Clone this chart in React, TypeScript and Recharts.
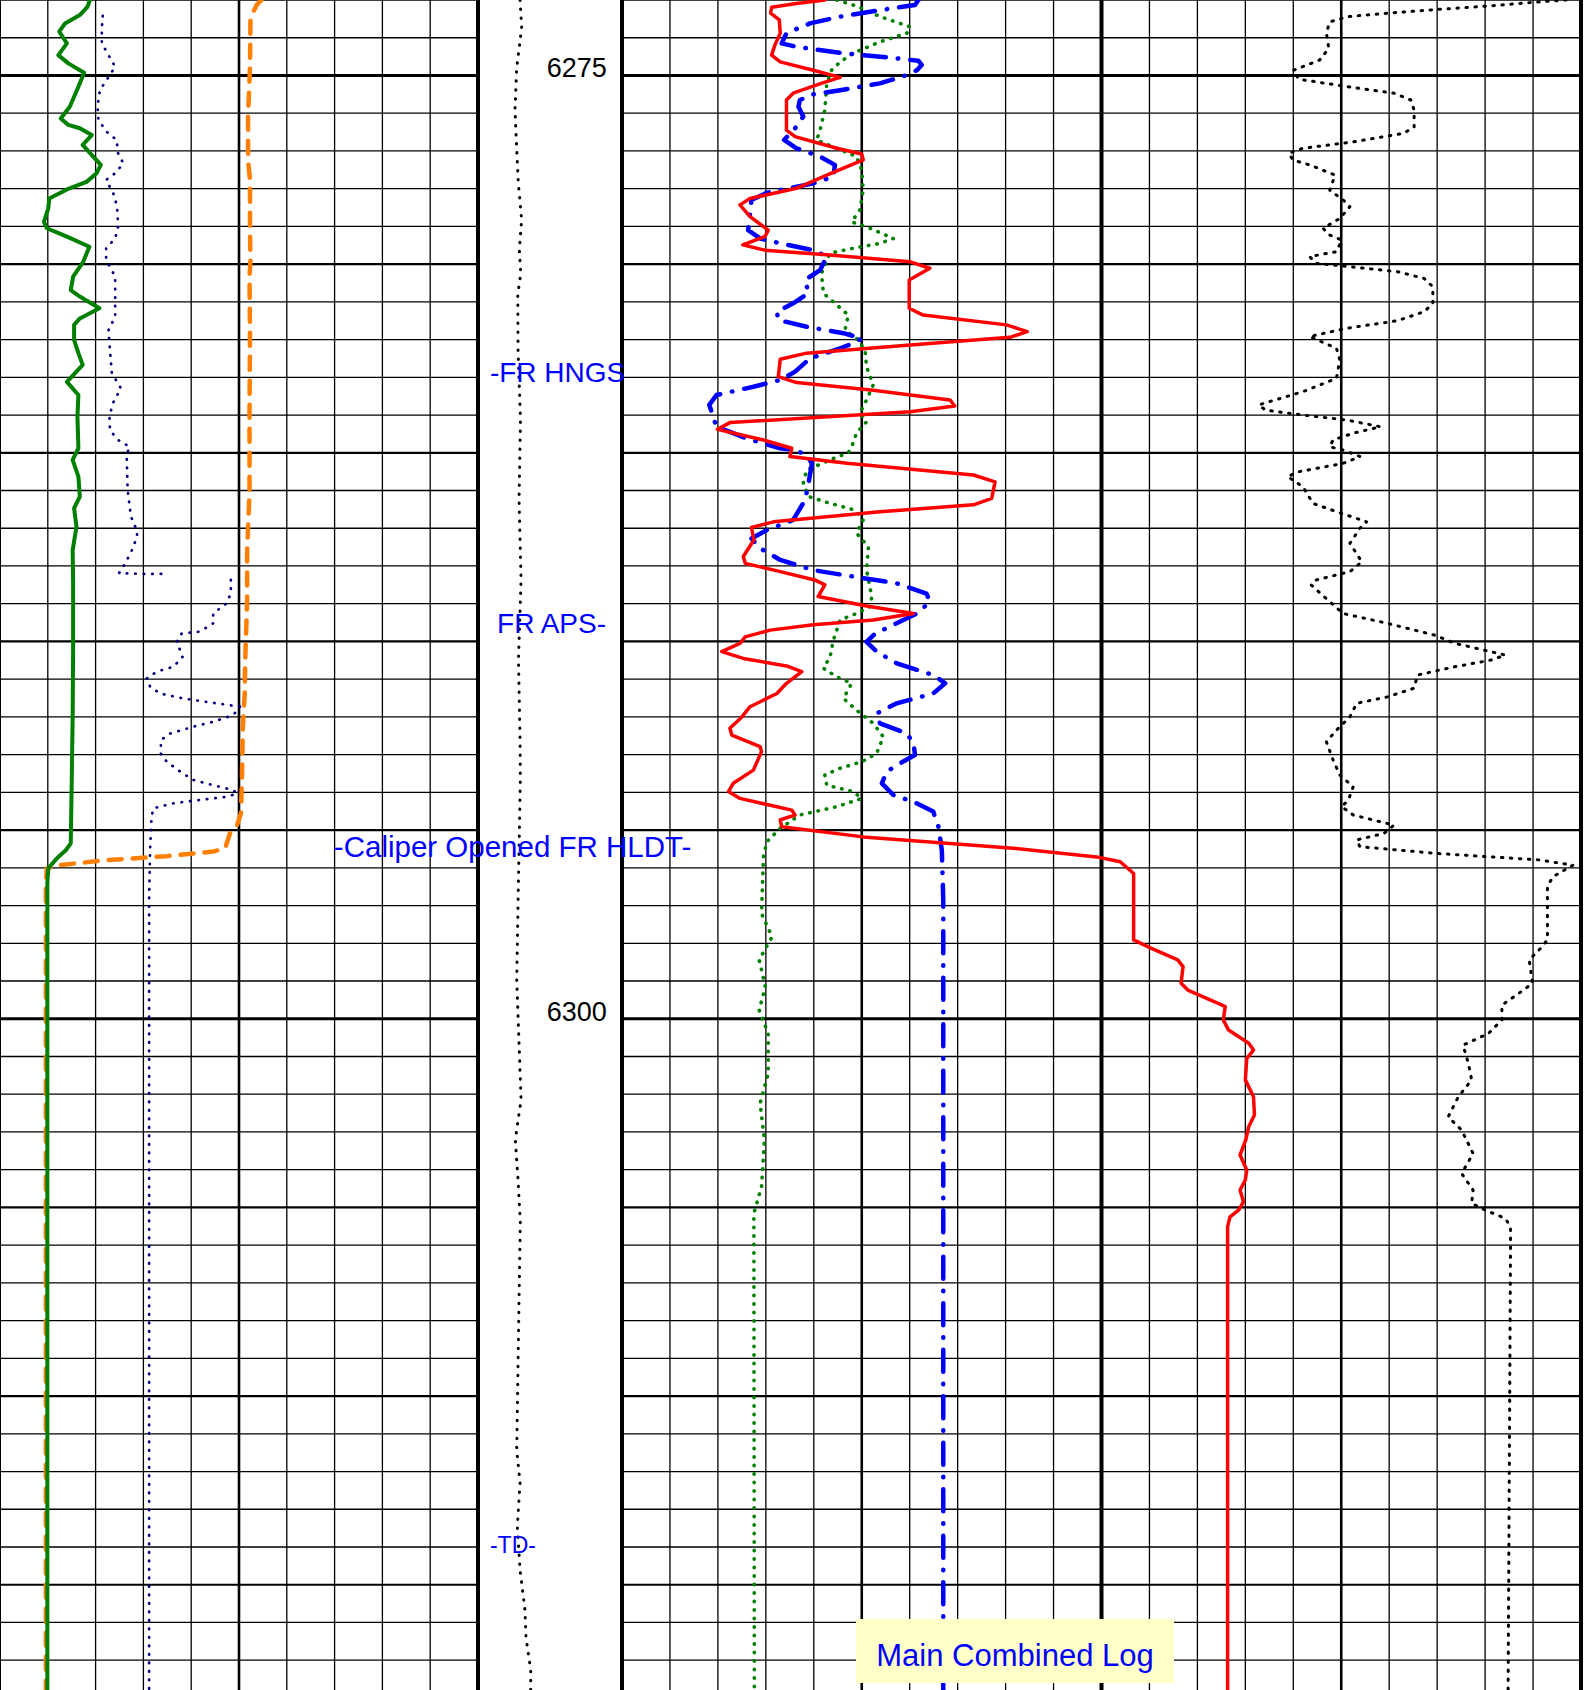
import { ComposedChart, Line, XAxis, YAxis, ReferenceLine, ReferenceDot } from "recharts";

const CHART_H = 1690;
const DEPTH_TOP = 6273;
const DEPTH_BOTTOM = 6317.79;
const FONT = '"Liberation Sans", Arial, Helvetica, sans-serif';

// one grid line per foot
const depthGrid = Array.from({ length: 45 }, (_, i) => DEPTH_TOP + i);
const depthLabels = [6275, 6300];

const markerDepths = [6282.86, 6289.51, 6295.42, 6313.95];
const markerTexts = ["-FR HNGS", "FR APS-", "-Caliper Opened FR HLDT-", "-TD-"];

// track 1 (0-10 divisions)
const gammaRay: [number, number][] = [
  [6273.0, 1.88], [6273.18, 1.83], [6273.4, 1.67], [6273.62, 1.36], [6273.84, 1.24], [6274.15, 1.4],
  [6274.46, 1.22], [6274.68, 1.43], [6274.93, 1.76], [6275.3, 1.64], [6275.83, 1.46], [6276.14, 1.27],
  [6276.31, 1.43], [6276.4, 1.67], [6276.58, 1.92], [6276.84, 1.73], [6277.15, 1.95], [6277.37, 2.11],
  [6277.59, 2.02], [6277.82, 1.81], [6278.02, 1.4], [6278.26, 1.03], [6278.52, 1.01], [6278.88, 0.92],
  [6279.05, 0.98], [6279.27, 1.4], [6279.54, 1.87], [6279.94, 1.74], [6280.33, 1.53], [6280.69, 1.48],
  [6280.86, 1.67], [6281.17, 2.08], [6281.44, 1.67], [6281.61, 1.55], [6282.01, 1.55], [6282.36, 1.64],
  [6282.67, 1.73], [6283.12, 1.4], [6283.47, 1.64], [6284.04, 1.62], [6284.88, 1.64], [6285.19, 1.52],
  [6285.63, 1.64], [6286.16, 1.67], [6286.47, 1.55], [6286.96, 1.6], [6287.58, 1.52], [6288.46, 1.53],
  [6290.23, 1.53], [6292.0, 1.52], [6293.76, 1.5], [6295.35, 1.48], [6295.53, 1.38], [6295.75, 1.19],
  [6296.01, 1.01], [6296.41, 0.99], [6317.79, 0.99],
];

const navyUpper: [number, number][] = [
  [6273.42, 2.15], [6273.75, 2.13], [6274.15, 2.13], [6274.77, 2.41], [6275.12, 2.23], [6275.39, 2.09],
  [6275.83, 2.04], [6276.18, 2.06], [6276.49, 2.23], [6276.71, 2.44], [6277.06, 2.47], [6277.33, 2.58],
  [6277.59, 2.41], [6277.77, 2.22], [6278.12, 2.37], [6278.48, 2.45], [6279.01, 2.47], [6279.32, 2.41],
  [6279.58, 2.22], [6279.89, 2.22], [6280.33, 2.41], [6280.95, 2.41], [6281.39, 2.41], [6281.75, 2.27],
  [6282.28, 2.3], [6282.89, 2.34], [6283.29, 2.53], [6283.69, 2.36], [6284.04, 2.29], [6284.4, 2.3],
  [6284.66, 2.47], [6284.84, 2.71], [6285.06, 2.65], [6285.99, 2.67], [6286.69, 2.74], [6287.05, 2.86],
  [6287.22, 2.87], [6287.58, 2.76], [6287.93, 2.62], [6288.19, 2.49], [6288.21, 2.93], [6288.21, 3.49],
];

const navyLower: [number, number][] = [
  [6288.37, 4.83], [6288.72, 4.83], [6288.99, 4.74], [6289.26, 4.46], [6289.52, 4.46], [6289.74, 4.18],
  [6289.79, 3.8], [6290.01, 3.7], [6290.41, 3.82], [6290.67, 3.63], [6290.8, 3.28], [6290.98, 3.07],
  [6291.2, 3.14], [6291.38, 3.35], [6291.51, 3.83], [6291.64, 4.53], [6291.73, 5.02], [6291.95, 4.88],
  [6292.13, 4.46], [6292.26, 4.04], [6292.44, 3.56], [6292.61, 3.37], [6292.97, 3.36], [6293.19, 3.49],
  [6293.45, 3.77], [6293.67, 4.04], [6293.81, 4.46], [6293.94, 4.88], [6294.03, 4.96], [6294.12, 4.74],
  [6294.2, 4.18], [6294.29, 3.63], [6294.42, 3.21], [6294.65, 3.17], [6295.53, 3.14], [6296.77, 3.12],
  [6317.79, 3.12],
];

const caliper: [number, number][] = [
  [6273.0, 5.47], [6273.13, 5.37], [6273.31, 5.3], [6273.53, 5.24], [6274.77, 5.23], [6276.09, 5.19],
  [6277.24, 5.19], [6277.77, 5.23], [6279.18, 5.23], [6279.89, 5.24], [6280.33, 5.22], [6281.83, 5.23],
  [6284.04, 5.22], [6286.07, 5.22], [6287.58, 5.17], [6288.9, 5.17], [6290.49, 5.13], [6291.38, 5.12],
  [6292.26, 5.08], [6293.76, 5.06], [6294.56, 5.04], [6294.87, 4.96], [6295.09, 4.81], [6295.48, 4.71],
  [6295.57, 4.46], [6295.69, 3.49], [6295.81, 2.09], [6295.93, 1.26], [6296.01, 0.98], [6296.41, 0.96],
  [6317.79, 0.96],
];

// depth track (0-10)
const tension: [number, number][] = [
  [6273.0, 2.92], [6273.72, 3.03], [6274.25, 2.87], [6274.78, 2.69], [6275.92, 2.57], [6276.98, 2.69],
  [6277.85, 2.8], [6278.83, 3.03], [6279.63, 2.87], [6280.24, 2.97], [6280.82, 2.76], [6282.28, 2.78],
  [6284.13, 2.95], [6286.25, 2.85], [6288.37, 2.99], [6290.49, 2.81], [6292.61, 2.92], [6293.67, 2.94],
  [6296.32, 2.81], [6298.97, 2.69], [6302.15, 2.99], [6303.21, 2.59], [6304.27, 2.78], [6305.41, 2.94],
  [6307.46, 2.85], [6311.43, 2.69], [6312.31, 2.92], [6313.47, 2.73], [6314.61, 2.92], [6315.67, 3.26],
  [6316.39, 3.33], [6317.26, 3.66], [6317.79, 3.66],
];

// tracks 2 + 3 (0-20 divisions)
const density: [number, number][] = [
  [6273.0, 4.48], [6273.16, 4.89], [6273.44, 5.38], [6273.71, 6.01], [6273.88, 5.94], [6274.11, 5.38],
  [6274.41, 4.82], [6274.64, 4.55], [6274.86, 4.37], [6275.21, 4.27], [6275.92, 4.23], [6276.45, 4.13],
  [6276.71, 4.06], [6276.93, 4.48], [6277.15, 4.89], [6277.51, 5.0], [6278.04, 5.03], [6278.57, 4.96],
  [6278.88, 4.79], [6279.05, 5.17], [6279.32, 5.66], [6279.45, 5.38], [6279.58, 4.82], [6279.71, 4.34],
  [6280.24, 4.16], [6280.77, 4.2], [6281.08, 4.48], [6281.35, 4.72], [6281.75, 4.65], [6281.97, 4.89],
  [6282.28, 5.07], [6282.72, 5.1], [6283.2, 5.24], [6283.6, 5.1], [6283.95, 4.96], [6284.18, 5.1],
  [6284.48, 4.89], [6284.84, 4.79], [6285.0, 4.72], [6285.15, 4.41], [6285.46, 3.85], [6285.81, 3.78],
  [6286.16, 3.89], [6286.34, 4.34], [6286.52, 4.86], [6286.78, 5.03], [6287.13, 4.89], [6287.49, 5.14],
  [6288.11, 5.1], [6288.82, 5.21], [6289.08, 5.17], [6289.26, 4.89], [6289.43, 4.55], [6289.96, 4.41],
  [6290.41, 4.34], [6290.71, 4.2], [6290.94, 4.48], [6291.11, 4.79], [6291.51, 4.62], [6291.82, 4.89],
  [6292.17, 5.24], [6292.53, 5.45], [6292.97, 5.31], [6293.19, 5.0], [6293.36, 4.55], [6293.54, 4.23],
  [6293.81, 4.27], [6293.98, 4.82], [6294.16, 5.0], [6294.38, 4.48], [6294.6, 3.71], [6294.95, 3.3],
  [6295.31, 3.02], [6295.71, 2.95], [6296.44, 2.93], [6297.21, 2.91], [6297.83, 3.13], [6298.44, 2.86],
  [6299.15, 2.99], [6299.77, 2.86], [6300.39, 3.05], [6301.45, 3.05], [6302.24, 2.88], [6303.21, 2.97],
  [6304.45, 2.91], [6305.16, 2.75], [6317.79, 2.76],
];

const neutron: [number, number][] = [
  [6273.0, 6.18], [6273.13, 6.11], [6273.27, 5.38], [6273.44, 4.55], [6273.62, 3.92], [6273.88, 3.43],
  [6274.15, 3.33], [6274.24, 3.64], [6274.4, 4.55], [6274.52, 5.52], [6274.61, 6.18], [6274.72, 6.25],
  [6274.86, 6.15], [6274.99, 5.94], [6275.21, 5.38], [6275.39, 4.55], [6275.5, 3.99], [6275.65, 3.71],
  [6275.83, 3.68], [6276.09, 3.78], [6276.4, 3.61], [6276.71, 3.38], [6276.93, 3.64], [6277.15, 4.13],
  [6277.37, 4.44], [6277.68, 4.41], [6277.86, 3.99], [6278.11, 3.02], [6278.3, 2.7], [6278.57, 2.68],
  [6279.1, 2.63], [6279.32, 2.88], [6279.45, 3.3], [6279.63, 3.99], [6279.8, 4.27], [6280.16, 4.13],
  [6280.42, 3.82], [6280.77, 3.89], [6281.04, 3.57], [6281.26, 3.23], [6281.48, 3.26], [6281.66, 3.85],
  [6281.83, 4.62], [6281.97, 5.0], [6282.1, 4.82], [6282.23, 4.55], [6282.5, 3.92], [6282.85, 3.61],
  [6283.07, 3.3], [6283.25, 2.74], [6283.47, 1.97], [6283.73, 1.82], [6284.31, 1.97], [6284.62, 2.6],
  [6284.88, 3.3], [6284.93, 3.61], [6285.06, 3.85], [6285.28, 3.96], [6285.81, 3.89], [6286.25, 3.82],
  [6286.78, 3.57], [6287.05, 3.02], [6287.27, 2.7], [6287.53, 2.88], [6287.84, 3.3], [6288.11, 3.99],
  [6288.28, 4.82], [6288.46, 5.73], [6288.73, 6.35], [6288.95, 6.42], [6289.26, 6.15], [6289.56, 5.66],
  [6289.79, 5.28], [6290.01, 5.1], [6290.27, 5.31], [6290.58, 5.73], [6290.89, 6.49], [6291.11, 6.74],
  [6291.38, 6.49], [6291.64, 5.73], [6291.91, 5.31], [6292.17, 5.38], [6292.44, 5.94], [6292.7, 6.08],
  [6293.01, 6.11], [6293.23, 5.8], [6293.45, 5.52], [6293.76, 5.42], [6294.07, 5.66], [6294.25, 6.08],
  [6294.51, 6.49], [6294.91, 6.6], [6295.53, 6.67], [6296.85, 6.7], [6317.79, 6.7],
];

const sonic: [number, number][] = [
  [6273.0, 4.23], [6273.09, 3.64], [6273.19, 3.12], [6273.35, 3.1], [6273.53, 3.28], [6273.88, 3.3],
  [6274.19, 3.19], [6274.46, 3.12], [6274.64, 3.3], [6274.86, 3.99], [6275.05, 4.55], [6275.19, 4.2],
  [6275.47, 3.57], [6275.65, 3.43], [6276.45, 3.43], [6276.62, 3.61], [6276.93, 4.48], [6277.08, 5.0],
  [6277.24, 5.03], [6277.64, 4.27], [6277.99, 3.64], [6278.26, 2.67], [6278.43, 2.46], [6278.74, 2.67],
  [6279.1, 3.05], [6279.27, 2.98], [6279.49, 2.52], [6279.63, 2.98], [6279.76, 4.34], [6279.94, 6.01],
  [6280.11, 6.42], [6280.42, 5.99], [6281.17, 5.99], [6281.35, 6.28], [6281.61, 8.02], [6281.79, 8.45],
  [6281.94, 8.09], [6282.14, 6.08], [6282.36, 3.85], [6282.52, 3.3], [6282.98, 3.26], [6283.14, 3.64],
  [6283.34, 5.24], [6283.6, 6.84], [6283.76, 6.94], [6283.91, 6.01], [6284.2, 2.25], [6284.38, 1.99],
  [6284.66, 2.95], [6284.88, 3.54], [6285.1, 3.5], [6285.28, 4.69], [6285.59, 7.33], [6285.77, 7.78],
  [6286.21, 7.71], [6286.38, 7.33], [6286.56, 5.38], [6286.83, 3.16], [6286.98, 2.7], [6287.31, 2.75],
  [6287.75, 2.53], [6287.93, 2.57], [6288.15, 3.3], [6288.37, 4.02], [6288.5, 4.23], [6288.81, 4.09],
  [6289.06, 5.1], [6289.26, 6.08], [6289.43, 5.24], [6289.56, 3.99], [6289.7, 3.09], [6289.88, 2.57],
  [6290.05, 2.46], [6290.27, 2.08], [6290.45, 2.53], [6290.65, 3.43], [6290.8, 3.75], [6291.11, 3.43],
  [6291.38, 3.23], [6291.73, 2.67], [6292.0, 2.5], [6292.3, 2.25], [6292.48, 2.29], [6292.79, 2.88],
  [6292.92, 2.91], [6293.41, 2.74], [6293.76, 2.32], [6293.98, 2.22], [6294.16, 2.46], [6294.47, 3.54],
  [6294.6, 3.61], [6294.73, 3.3], [6294.91, 3.33], [6295.18, 5.03], [6295.48, 8.16], [6295.71, 9.9],
  [6295.84, 10.39], [6296.15, 10.67], [6297.91, 10.67], [6298.13, 11.03], [6298.44, 11.59], [6298.62, 11.7],
  [6299.06, 11.66], [6299.24, 11.8], [6299.55, 12.36], [6299.68, 12.58], [6300.03, 12.54], [6300.3, 12.65],
  [6300.65, 13.07], [6300.83, 13.17], [6301.05, 13.03], [6301.62, 13.0], [6302.07, 13.17], [6302.55, 13.19],
  [6302.86, 13.07], [6303.21, 13.01], [6303.61, 12.89], [6304.01, 13.03], [6304.27, 13.0], [6304.54, 12.89],
  [6304.85, 12.96], [6305.07, 12.86], [6305.25, 12.68], [6305.51, 12.63], [6317.79, 12.63],
];

const resistivity: [number, number][] = [
  [6273.0, 19.69], [6273.05, 19.13], [6273.16, 18.07], [6273.25, 17.01], [6273.35, 15.96], [6273.44, 15.15],
  [6273.58, 14.76], [6273.88, 14.69], [6274.28, 14.74], [6274.59, 14.55], [6274.87, 13.99], [6275.1, 14.12],
  [6275.28, 15.04], [6275.47, 16.1], [6275.65, 16.45], [6275.92, 16.52], [6276.36, 16.52], [6276.53, 16.31],
  [6276.76, 15.25], [6276.93, 14.2], [6277.06, 13.91], [6277.24, 13.99], [6277.37, 14.34], [6277.64, 14.87],
  [6278.04, 14.76], [6278.3, 15.04], [6278.48, 15.18], [6278.79, 14.97], [6279.05, 14.62], [6279.23, 14.76],
  [6279.36, 15.01], [6279.67, 14.9], [6279.8, 14.34], [6279.98, 14.48], [6280.05, 15.04], [6280.2, 16.17],
  [6280.38, 16.73], [6280.6, 16.91], [6281.04, 16.91], [6281.26, 16.73], [6281.5, 16.17], [6281.7, 15.11],
  [6281.92, 14.34], [6282.23, 14.9], [6282.54, 14.97], [6283.03, 14.9], [6283.38, 14.2], [6283.73, 13.28],
  [6283.87, 13.42], [6284.0, 14.2], [6284.13, 15.11], [6284.31, 15.82], [6284.48, 15.25], [6284.66, 14.83],
  [6284.84, 14.76], [6284.93, 15.04], [6285.1, 15.39], [6285.28, 15.04], [6285.5, 14.12], [6285.63, 13.88],
  [6285.9, 14.2], [6286.34, 14.41], [6286.56, 14.9], [6286.83, 15.53], [6287.0, 15.39], [6287.4, 15.18],
  [6287.89, 15.43], [6288.15, 15.18], [6288.37, 14.48], [6288.5, 14.37], [6288.95, 14.76], [6289.26, 15.04],
  [6289.52, 15.96], [6289.83, 16.94], [6290.05, 17.37], [6290.36, 18.42], [6290.49, 18.14], [6290.67, 17.37],
  [6290.89, 16.59], [6291.24, 16.52], [6291.47, 15.96], [6291.64, 15.32], [6292.0, 15.18], [6292.35, 14.9],
  [6292.66, 14.69], [6293.14, 14.83], [6293.54, 14.97], [6293.85, 15.25], [6294.2, 15.15], [6294.38, 15.01],
  [6294.6, 15.25], [6294.87, 16.1], [6295.09, 15.89], [6295.26, 15.32], [6295.44, 15.39], [6295.62, 17.01],
  [6295.79, 19.13], [6295.93, 19.83], [6296.24, 19.41], [6296.5, 19.3], [6297.91, 19.3], [6298.13, 19.16],
  [6298.44, 18.92], [6299.06, 18.99], [6299.33, 18.7], [6299.64, 18.35], [6300.03, 18.35], [6300.39, 18.07],
  [6300.7, 17.54], [6301.18, 17.65], [6301.62, 17.72], [6302.07, 17.44], [6302.6, 17.23], [6302.95, 17.51],
  [6303.57, 17.75], [6304.1, 17.51], [6304.54, 17.75], [6304.89, 17.72], [6305.07, 18.0], [6305.29, 18.42],
  [6305.51, 18.53], [6306.13, 18.53], [6317.79, 18.48],
];

type Curve = { data: [number, number][]; stroke: string; width: number; dash?: string };

const track1Curves: Curve[] = [
  { data: navyUpper, stroke: "#000080", width: 2.7, dash: "0.5 8" },
  { data: navyLower, stroke: "#000080", width: 2.7, dash: "0.5 8" },
  { data: caliper, stroke: "#FF8000", width: 4.5, dash: "13 11" },
  { data: gammaRay, stroke: "#008000", width: 4 },
];

const depthCurves: Curve[] = [{ data: tension, stroke: "#000", width: 3, dash: "0.5 8.5" }];

const track23Curves: Curve[] = [
  { data: resistivity, stroke: "#000", width: 3, dash: "1.5 7.5" },
  { data: density, stroke: "#008000", width: 3.6, dash: "0.5 8" },
  { data: neutron, stroke: "#0000FF", width: 4.5, dash: "22 12 0.5 12" },
  { data: sonic, stroke: "#FF0000", width: 3.5 },
];

const noMargin = { top: 0, right: 0, bottom: 0, left: 0 };

function hWeight(d: number) {
  if (d % 25 === 0) return 3;
  if (d % 5 === 0) return 2.2;
  return 1.3;
}

function GridLayer({ left, width, units, weight }: { left: number; width: number; units: number; weight: (c: number) => number }) {
  const cols = Array.from({ length: units + 1 }, (_, i) => i);
  return (
    <div style={{ position: "absolute", left, top: 0 }}>
      <ComposedChart layout="vertical" width={width} height={CHART_H} margin={noMargin}>
        <XAxis type="number" domain={[0, units]} hide allowDataOverflow />
        <YAxis type="number" dataKey="d" domain={[DEPTH_TOP, DEPTH_BOTTOM]} hide allowDataOverflow />
        {depthGrid.map((d) => (
          <ReferenceLine key={`h${d}`} y={d} stroke="#000" strokeWidth={hWeight(d)} />
        ))}
        {cols.map((c) => (
          <ReferenceLine key={`v${c}`} x={c} stroke="#000" strokeWidth={weight(c)} />
        ))}
      </ComposedChart>
    </div>
  );
}

function CurveLayer({ left, width, units, curves, children }: { left: number; width: number; units: number; curves: Curve[]; children?: any }) {
  return (
    <div style={{ position: "absolute", left, top: 0 }}>
      <ComposedChart layout="vertical" width={width} height={CHART_H} margin={noMargin}>
        <XAxis type="number" domain={[0, units]} hide allowDataOverflow />
        <YAxis type="number" dataKey="d" domain={[DEPTH_TOP, DEPTH_BOTTOM]} hide allowDataOverflow />
        {curves.map((c, i) => (
          <Line
            key={i}
            data={c.data.map(([d, v]) => ({ d, v }))}
            dataKey="v"
            type="linear"
            stroke={c.stroke}
            strokeWidth={c.width}
            strokeDasharray={c.dash}
            strokeLinecap="round"
            strokeLinejoin="round"
            dot={false}
            activeDot={false}
            isAnimationActive={false}
          />
        ))}
        {children}
      </ComposedChart>
    </div>
  );
}

const markerStyle = [
  { x: 0.83, anchor: "start", size: 28 },
  { x: 8.89, anchor: "end", size: 28 },
  { x: 2.4, anchor: "middle", size: 29.5 },
  { x: 0.83, anchor: "start", size: 23 },
];

export default function App() {
  return (
    <div style={{ position: "relative", width: 1593, height: CHART_H, background: "#fff", overflow: "hidden", fontFamily: FONT }}>
      <style>{"body{margin:0}.recharts-surface{overflow:visible}"}</style>
      <GridLayer left={0} width={478} units={10} weight={(c) => (c === 10 ? 4 : c === 5 ? 2.6 : c === 0 ? 2 : 1.3)} />
      <GridLayer left={622} width={959} units={20} weight={(c) => (c % 10 === 0 ? 4 : c % 5 === 0 ? 2.6 : 1.3)} />
      <CurveLayer left={0} width={478} units={10} curves={track1Curves} />
      <CurveLayer left={478} width={144} units={10} curves={depthCurves}>
        {depthLabels.map((d) => (
          <ReferenceDot
            key={`dl${d}`}
            x={8.94}
            y={d}
            r={1}
            shape={(p: any) => (
              <text x={p.cx} y={p.cy} dy={2} textAnchor="end" fontSize={27} fontFamily={FONT} fill="#000">
                {d}
              </text>
            )}
          />
        ))}
        {markerTexts.map((t, i) => (
          <ReferenceDot
            key={`mk${i}`}
            x={markerStyle[i].x}
            y={markerDepths[i]}
            r={1}
            shape={(p: any) => (
              <text
                x={p.cx}
                y={p.cy}
                dy="0.36em"
                textAnchor={markerStyle[i].anchor as any}
                fontSize={markerStyle[i].size}
                fontFamily={FONT}
                fill="#0000FF"
              >
                {t}
              </text>
            )}
          />
        ))}
      </CurveLayer>
      <CurveLayer left={622} width={959} units={20} curves={track23Curves} />
      <div
        style={{
          position: "absolute",
          left: 856,
          top: 1619,
          width: 318,
          height: 64,
          background: "#FFFFC8",
          color: "#0000FF",
          fontSize: 31,
          lineHeight: "74px",
          textAlign: "center",
          whiteSpace: "nowrap",
        }}
      >
        Main Combined Log
      </div>
    </div>
  );
}
